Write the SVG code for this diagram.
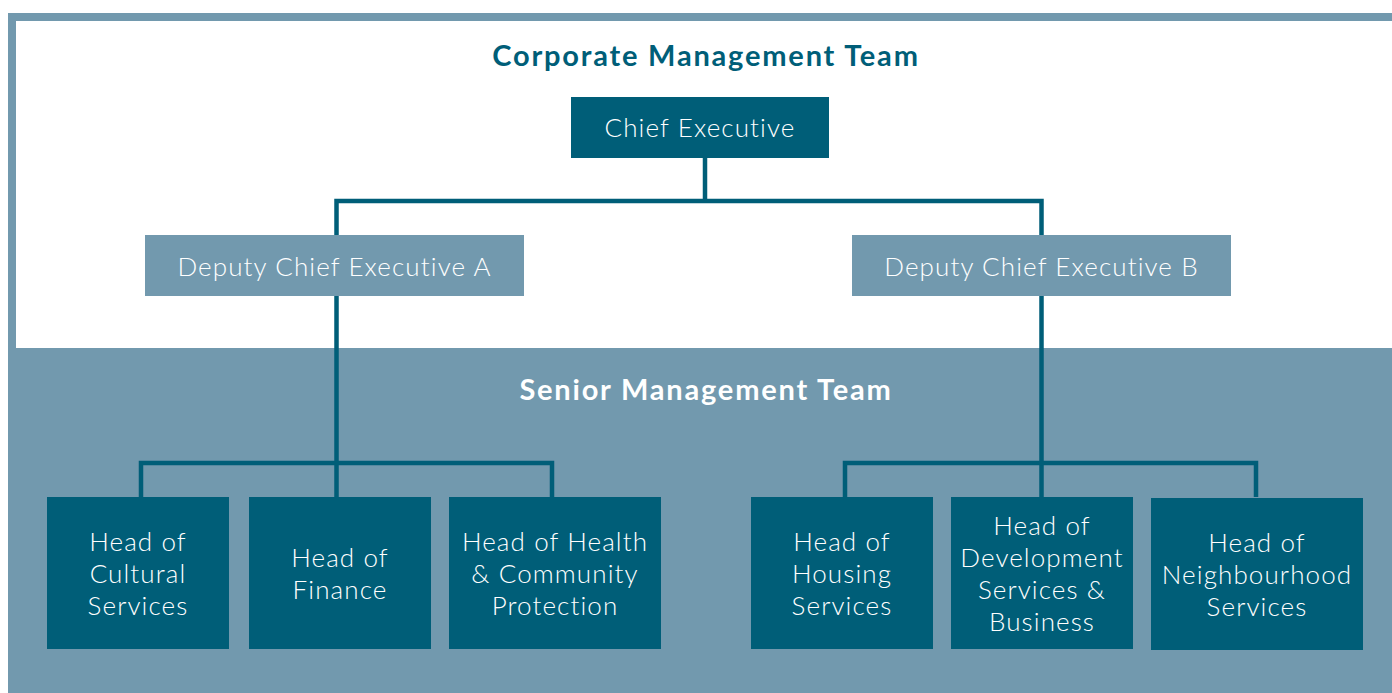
<svg xmlns="http://www.w3.org/2000/svg" width="1392" height="693" viewBox="0 0 1392 693">
<style>
.dark{fill:#005E78}
.light{fill:#7299AE}
.lbl{font-family:Lato,"Open Sans","Liberation Sans",sans-serif;font-size:26px;font-weight:300;letter-spacing:1.1px;fill:#FFFFFF;text-anchor:middle}
.ttl{font-family:Lato,"Open Sans","Liberation Sans",sans-serif;font-weight:bold;font-size:29px;letter-spacing:1.8px;text-anchor:middle}
.conn{fill:none;stroke:#005E78;stroke-width:4.5;stroke-linejoin:miter;stroke-linecap:butt}
</style>
<rect x="0" y="0" width="1392" height="693" fill="#FFFFFF"/>
<g id="background">
<rect x="8" y="13" width="1384" height="680" class="light"/>
<rect x="16" y="21" width="1376" height="327" fill="#FFFFFF"/>
<text x="706" y="66" class="ttl" fill="#005E78">Corporate Management Team</text>
<text x="706" y="400" class="ttl" fill="#FFFFFF">Senior Management Team</text>
</g>
<g id="connectors">
<path class="conn" d="M705,157 V201"/>
<path class="conn" d="M336.5,497 V201 H1041.5 V497"/>
<path class="conn" d="M141,497 V463 H552 V497"/>
<path class="conn" d="M845,497 V463 H1256 V497"/>
</g>
<g id="chief">
<rect x="571" y="97" width="258" height="61" class="dark"/>
<text x="700" y="137" class="lbl">Chief Executive</text>
</g>
<g id="deputyA">
<rect x="145" y="235" width="379" height="61" class="light"/>
<text x="334.5" y="276" class="lbl">Deputy Chief Executive A</text>
</g>
<g id="deputyB">
<rect x="852" y="235" width="379" height="61" class="light"/>
<text x="1041.5" y="276" class="lbl">Deputy Chief Executive B</text>
</g>
<g id="cultural">
<rect x="47" y="497" width="182" height="152" class="dark"/>
<text x="138" y="551" class="lbl">Head of</text>
<text x="138" y="583" class="lbl">Cultural</text>
<text x="138" y="615" class="lbl">Services</text>
</g>
<g id="finance">
<rect x="249" y="497" width="182" height="152" class="dark"/>
<text x="340" y="567" class="lbl">Head of</text>
<text x="340" y="599" class="lbl">Finance</text>
</g>
<g id="health">
<rect x="449" y="497" width="212" height="152" class="dark"/>
<text x="555" y="551" class="lbl">Head of Health</text>
<text x="555" y="583" class="lbl">&amp; Community</text>
<text x="555" y="615" class="lbl">Protection</text>
</g>
<g id="housing">
<rect x="751" y="497" width="182" height="152" class="dark"/>
<text x="842" y="551" class="lbl">Head of</text>
<text x="842" y="583" class="lbl">Housing</text>
<text x="842" y="615" class="lbl">Services</text>
</g>
<g id="development">
<rect x="951" y="497" width="182" height="152" class="dark"/>
<text x="1042" y="535" class="lbl">Head of</text>
<text x="1042" y="567" class="lbl">Development</text>
<text x="1042" y="599" class="lbl">Services &amp;</text>
<text x="1042" y="631" class="lbl">Business</text>
</g>
<g id="neighbourhood">
<rect x="1151" y="498" width="212" height="152" class="dark"/>
<text x="1257" y="552" class="lbl">Head of</text>
<text x="1257" y="584" class="lbl">Neighbourhood</text>
<text x="1257" y="616" class="lbl">Services</text>
</g>
</svg>
